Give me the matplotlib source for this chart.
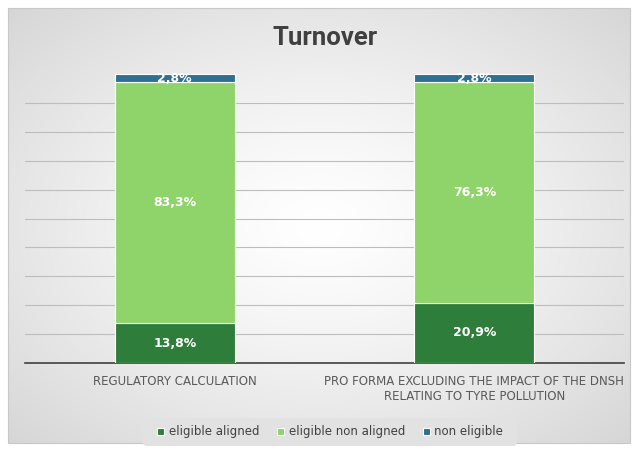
import numpy as np
import matplotlib.pyplot as plt
from matplotlib.patches import FancyBboxPatch, Rectangle

categories = ["REGULATORY CALCULATION",
              "PRO FORMA EXCLUDING THE IMPACT OF THE DNSH\nRELATING TO TYRE POLLUTION"]
eligible_aligned = [13.8, 20.9]
eligible_non_aligned = [83.3, 76.3]
non_eligible = [2.8, 2.8]
series_names = ["eligible aligned", "eligible non aligned", "non eligible"]
colors = ["#2f7d3b", "#8fd46b", "#2f6f92"]

fig = plt.figure(figsize=(6.37, 4.5), dpi=100)

# background with soft radial gradient inside a thin border
bg = fig.add_axes([0, 0, 1, 1], zorder=0)
bg.set_xlim(0, 637)
bg.set_ylim(450, 0)
bg.axis("off")
yy, xx = np.mgrid[0:435, 0:622]
r = np.sqrt(((xx - 311) / 311.0) ** 2 + ((yy - 217) / 217.0) ** 2)
shade = 1.0 - 0.16 * np.clip(r / 1.41, 0, 1) ** 1.3
img = np.dstack([shade, shade, shade])
bg.imshow(img, extent=[8, 630, 443, 8], aspect="auto")
bg.add_patch(Rectangle((8, 8), 622, 435, fill=False, edgecolor="#c8c8c8", lw=0.8))

ax = fig.add_axes([25 / 637, 87 / 450, 599 / 637, 289 / 450], zorder=1)
ax.patch.set_alpha(0)

x = np.arange(len(categories))
width = 0.4
bottoms = np.zeros(len(categories))
for vals, col, name in zip([eligible_aligned, eligible_non_aligned, non_eligible], colors, series_names):
    bars = ax.bar(x, vals, width, bottom=bottoms, color=col, edgecolor="white", linewidth=0.8,
                  label=name, zorder=3)
    for b, v, bt in zip(bars, vals, bottoms):
        ax.text(b.get_x() + b.get_width() / 2, bt + v / 2, f"{v:.1f}%".replace(".", ","),
                ha="center", va="center", color="white", fontsize=9, fontweight="bold", zorder=4)
    bottoms += np.array(vals)

ax.set_xlim(-0.5, 1.5)
ax.set_ylim(0, 100)
ax.set_yticks(np.arange(10, 100, 10))
ax.yaxis.grid(True, color="#bdbdbd", linewidth=0.8, zorder=0)
ax.tick_params(axis="y", left=False, labelleft=False)
ax.tick_params(axis="x", bottom=False, pad=5)
ax.set_xticks(x)
ax.set_xticklabels(categories, fontsize=8.5, color="#595959")
for s in ["top", "left", "right"]:
    ax.spines[s].set_visible(False)
ax.spines["bottom"].set_color("#404040")
ax.spines["bottom"].set_linewidth(1.2)

fig.text(325 / 637, 1 - 38 / 450, "Turnover", ha="center", va="center", fontsize=18.5,
         fontweight="bold", color="#404040", family=["Roboto", "DejaVu Sans"])

# legend box
bg.add_patch(FancyBboxPatch((143, 418), 374, 28, boxstyle="round,pad=0,rounding_size=4",
                            facecolor="#e2e2e2", edgecolor="none"))
handles, labels = ax.get_legend_handles_labels()
leg = fig.legend(handles, labels, loc="center", bbox_to_anchor=(330 / 637, 1 - 432 / 450),
                 ncol=3, frameon=False, fontsize=8.5, handlelength=0.6, handleheight=0.6,
                 columnspacing=1.5, handletextpad=0.4)
for t in leg.get_texts():
    t.set_color("#404040")

fig.savefig("out.png", dpi=100)
